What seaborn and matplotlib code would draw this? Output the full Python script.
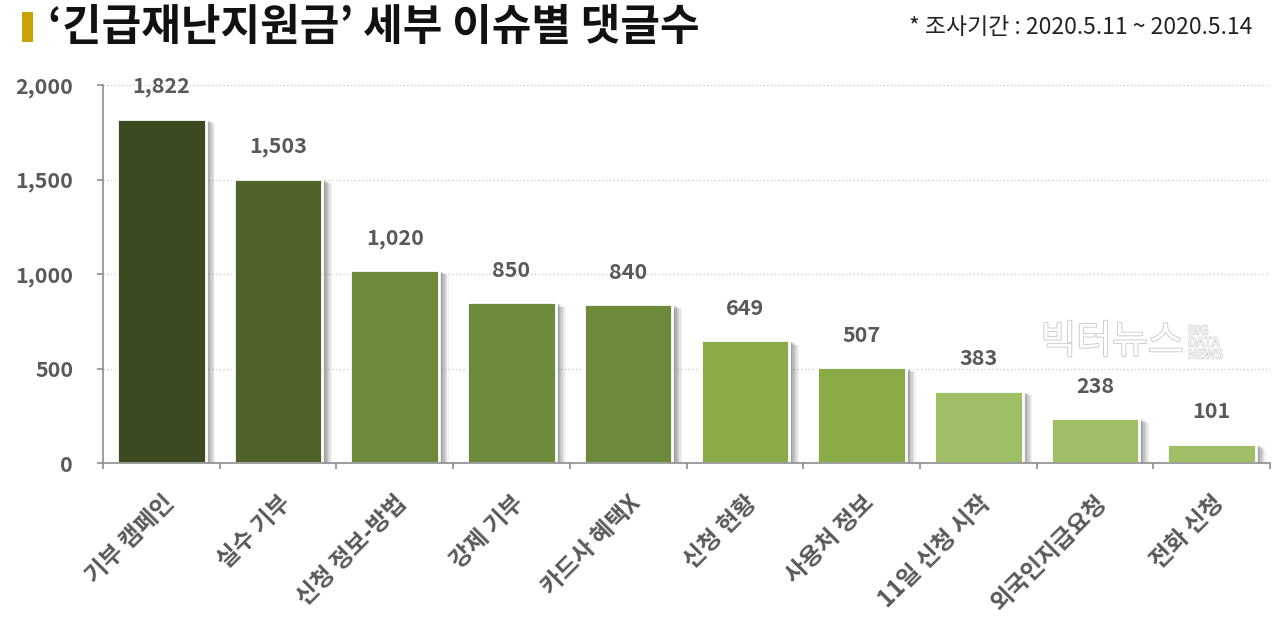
import matplotlib
matplotlib.use("Agg")
import matplotlib.pyplot as plt
import matplotlib.patheffects as pe
from matplotlib.patches import Rectangle
import seaborn as sns
import pandas as pd
import numpy as np

categories = ["기부 캠페인", "실수 기부", "신청 정보-방법", "강제 기부", "카드사 혜택X",
              "신청 현황", "사용처 정보", "11일 신청 시작", "외국인지급요청", "전화 신청"]
values = [1822, 1503, 1020, 850, 840, 649, 507, 383, 238, 101]
bar_colors = ["#3b4a21", "#4f6229", "#6c8a3a", "#6c8a3a", "#6c8a3a",
              "#88ab48", "#88ab48", "#9fbf66", "#9fbf66", "#9fbf66"]
yticks = [0, 500, 1000, 1500, 2000]

sns.set_theme(style="white")
plt.rcParams["font.family"] = ["Noto Sans CJK KR", "DejaVu Sans"]

fig = plt.figure(figsize=(12.8, 6.21), dpi=100)
ax = fig.add_axes([103/1280, 1-463/621, (1270-103)/1280, (463-85)/621])

df = pd.DataFrame({"cat": categories, "val": values})
sns.barplot(data=df, x="cat", y="val", hue="cat", palette=bar_colors, legend=False,
            width=0.76, edgecolor="white", linewidth=2, ax=ax, saturation=1)

shadow_layers = [pe.SimplePatchShadow(offset=(o, -o * 0.5), shadow_rgbFace="#505050", alpha=a)
                 for o, a in [(7, 0.07), (6, 0.09), (5, 0.11), (4, 0.13), (3, 0.15), (2, 0.17)]]
for p in ax.patches:
    p.set_path_effects(shadow_layers + [pe.Normal()])

ax.set_ylim(0, 2000)
ax.set_xlim(-0.5, len(categories) - 0.5)
ax.set_yticks(yticks)
ax.set_yticklabels([f"{v:,}" for v in yticks], fontsize=15.5, fontweight="bold", color="#595959")
ax.yaxis.grid(True, linestyle=(0, (1, 2)), color="#c8c8c8", linewidth=0.9)
ax.set_axisbelow(True)
ax.set_xlabel("")
ax.set_ylabel("")

for s in ["top", "right"]:
    ax.spines[s].set_visible(False)
for s in ["left", "bottom"]:
    ax.spines[s].set_color("#8c8c8c")
    ax.spines[s].set_linewidth(1.2)

ax.tick_params(axis="y", which="major", left=True, length=4.5, width=1.2, color="#8c8c8c", pad=17)
ax.set_xticks(range(len(categories)))
ax.set_xticklabels(categories, rotation=45, ha="right", rotation_mode="anchor",
                   fontsize=17, fontweight="bold", color="#595959")
ax.tick_params(axis="x", which="major", bottom=False, length=0, pad=20)
ax.set_xticks(np.arange(-0.5, len(categories), 1.0), minor=True)
ax.tick_params(axis="x", which="minor", bottom=True, length=4.5, width=1.2, color="#8c8c8c")

for i, v in enumerate(values):
    ax.annotate(f"{v:,}", (i, v), xytext=(0, 23), textcoords="offset points",
                ha="center", va="center", fontsize=15.5, fontweight="bold", color="#595959")

# title block
fig.patches.append(Rectangle((22/1280, 1-42/621), 11/1280, 30/621, transform=fig.transFigure,
                             facecolor="#c9a100", edgecolor="none"))
fig.text(48/1280, 1-27/621, "‘긴급재난지원금’ 세부 이슈별 댓글수", fontsize=31, fontweight="bold",
         color="#111111", ha="left", va="center")
fig.text(1252/1280, 1-27/621, "* 조사기간 : 2020.5.11 ~ 2020.5.14", fontsize=16.5,
         color="#222222", ha="right", va="center")

# watermark
fig.text(1112/1280, 1-342/621, "빅터뉴스", fontsize=28, color="white", ha="center", va="center",
         path_effects=[pe.withStroke(linewidth=1.4, foreground="#cfcfcf")], zorder=5)
fig.text(1188/1280, 1-343/621, "BIG\nDATA\nNEWS", fontsize=9, color="white", ha="left",
         va="center", linespacing=0.9,
         path_effects=[pe.withStroke(linewidth=1.1, foreground="#cfcfcf")], zorder=5)

fig.savefig("out.png", dpi=100, facecolor="white")
